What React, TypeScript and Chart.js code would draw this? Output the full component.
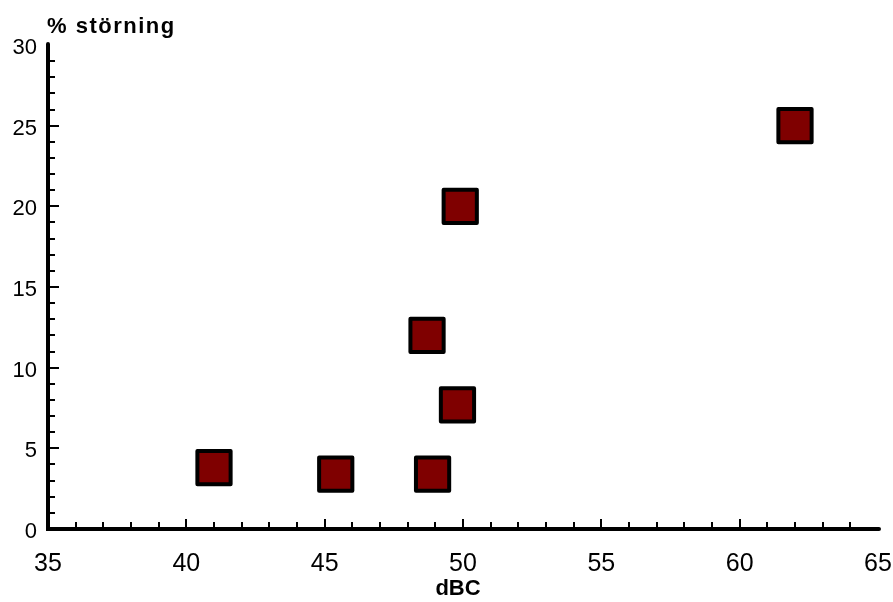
import React, { useEffect, useRef } from "react";
import { Chart, registerables } from "chart.js";

Chart.register(...registerables);

const xValues = [41, 45.4, 48.9, 48.7, 49.8, 49.9, 62];
const yValues = [3.8, 3.4, 3.4, 12, 7.7, 20, 25];
const xTickLabels = [35, 40, 45, 50, 55, 60, 65];
const yTickLabels = [0, 5, 10, 15, 20, 25, 30];
const xTitle = "dBC";
const yTitle = "% störning";

const FONT = "'Liberation Sans', Arial, sans-serif";

const tickPlugin = {
  id: "inwardTicks",
  beforeDatasetsDraw(chart: any) {
    const ctx = chart.ctx;
    const xs = chart.scales.x;
    const ys = chart.scales.y;
    const area = chart.chartArea;
    ctx.save();
    ctx.strokeStyle = "#000";
    // axis lines
    ctx.lineWidth = 4;
    ctx.lineCap = "round";
    ctx.beginPath();
    ctx.moveTo(area.left, area.top - 1);
    ctx.lineTo(area.left, area.bottom);
    ctx.lineTo(area.right + 1, area.bottom);
    ctx.stroke();
    ctx.lineCap = "butt";
    ctx.lineWidth = 2;
    for (let v = xs.min + 1; v < xs.max; v += 1) {
      const px = Math.round(xs.getPixelForValue(v));
      const len = v % 5 === 0 ? 10 : 7;
      ctx.beginPath();
      ctx.moveTo(px, area.bottom);
      ctx.lineTo(px, area.bottom - len);
      ctx.stroke();
    }
    for (let v = ys.min + 1; v < ys.max; v += 1) {
      const py = Math.round(ys.getPixelForValue(v));
      const len = v % 5 === 0 ? 11 : 7;
      ctx.beginPath();
      ctx.moveTo(area.left, py);
      ctx.lineTo(area.left + len, py);
      ctx.stroke();
    }
    // titles
    ctx.fillStyle = "#000";
    ctx.font = `bold 22px ${FONT}`;
    (ctx as any).letterSpacing = "1.5px";
    ctx.textAlign = "left";
    ctx.textBaseline = "alphabetic";
    ctx.fillText(yTitle, area.left - 1, area.top - 12);
    (ctx as any).letterSpacing = "0px";
    ctx.textAlign = "center";
    ctx.fillText(xTitle, (area.left + area.right) / 2 - 5, area.bottom + 66);
    ctx.restore();
  },
  beforeDatasetDraw(chart: any) {
    chart.ctx.lineJoin = "round";
  },
};

export default function App() {
  const ref = useRef<HTMLCanvasElement | null>(null);
  useEffect(() => {
    document.body.style.margin = "0";
    const chart = new Chart(ref.current as HTMLCanvasElement, {
      type: "scatter",
      data: {
        datasets: [
          {
            data: xValues.map((x, i) => ({ x, y: yValues[i] })),
            pointStyle: "rect",
            pointRadius: 23.5,
            pointHoverRadius: 23.5,
            backgroundColor: "#7f0000",
            borderColor: "#000",
            borderWidth: 4,
            pointBorderWidth: 4,
            clip: false,
          } as any,
        ],
      },
      options: {
        animation: false,
        responsive: false,
        maintainAspectRatio: false,
        layout: { autoPadding: false, padding: { top: 45, right: 15, left: 0, bottom: 0 } },
        plugins: { legend: { display: false }, tooltip: { enabled: false } },
        scales: {
          x: {
            type: "linear",
            min: 35,
            max: 65,
            afterBuildTicks: (s: any) => {
              s.ticks = xTickLabels.map((v) => ({ value: v }));
            },
            afterFit: (s: any) => {
              s.height = 73;
              s.paddingLeft = 0;
              s.paddingRight = 0;
            },
            grid: { display: false, drawTicks: false },
            border: { display: false },
            ticks: {
              color: "#000",
              font: { family: FONT, size: 25 },
              padding: 20,
              maxRotation: 0,
              autoSkip: false,
            },
          },
          y: {
            type: "linear",
            min: 0,
            max: 30,
            afterBuildTicks: (s: any) => {
              s.ticks = yTickLabels.map((v) => ({ value: v }));
            },
            afterFit: (s: any) => {
              s.width = 48;
              s.paddingTop = 0;
              s.paddingBottom = 0;
            },
            grid: { display: false, drawTicks: false },
            border: { display: false },
            ticks: {
              color: "#000",
              font: { family: FONT, size: 22 },
              padding: 11,
              labelOffset: 3,
              autoSkip: false,
            },
          },
        },
      },
      plugins: [tickPlugin],
    });
    return () => chart.destroy();
  }, []);
  return (
    <div style={{ width: 893, height: 602 }}>
      <canvas ref={ref} width={893} height={602} style={{ width: 893, height: 602 }} />
    </div>
  );
}
